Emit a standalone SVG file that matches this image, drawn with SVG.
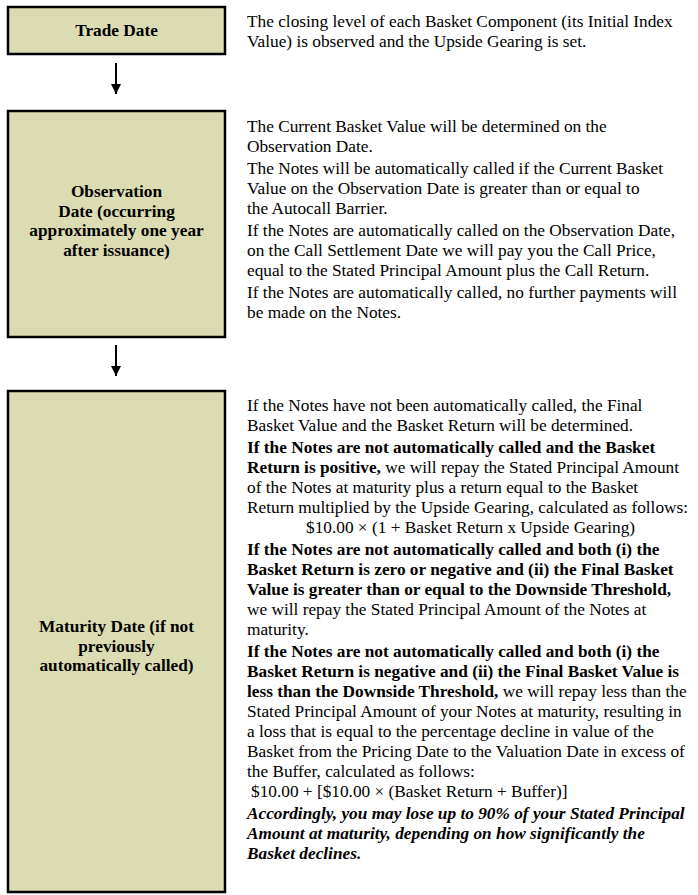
<svg xmlns="http://www.w3.org/2000/svg" width="698" height="895" viewBox="0 0 698 895">
<style>
.box{fill:#DCDCB2;stroke:#000;stroke-width:2.5}
.lbl{font-family:"Liberation Serif","Times New Roman",serif;font-size:17.3px;font-weight:bold;text-anchor:middle;fill:#000}
.t{font-family:"Liberation Serif","Times New Roman",serif;font-size:17.3px;fill:#000}
.b{font-weight:bold}
.bi{font-weight:bold;font-style:italic}
.conn{stroke:#000;stroke-width:2;fill:none}
</style>
<defs>
<marker id="ah" viewBox="0 0 10 10" refX="10" refY="5" markerWidth="5" markerHeight="5" markerUnits="strokeWidth" orient="auto">
<path d="M0,0 L10,5 L0,10 Z" fill="#000"/>
</marker>
</defs>
<rect width="698" height="895" fill="#fff"/>
<g id="connectors">
<line class="conn" x1="116" y1="63" x2="116" y2="94" marker-end="url(#ah)"/>
<line class="conn" x1="116" y1="345" x2="116" y2="376" marker-end="url(#ah)"/>
</g>
<g id="trade-date">
<rect class="box" x="8" y="7" width="217" height="47"/>
<text class="lbl" x="116.5" y="36">Trade Date</text>
</g>
<g id="trade-date-text" class="t">
<text x="247" y="27">The closing level of each Basket Component (its Initial Index</text>
<text x="247" y="47">Value) is observed and the Upside Gearing is set.</text>
</g>
<g id="observation-date">
<rect class="box" x="8" y="111" width="217" height="226"/>
<text class="lbl" x="116.5" y="197">Observation</text>
<text class="lbl" x="116.5" y="216.5">Date (occurring</text>
<text class="lbl" x="116.5" y="236">approximately one year</text>
<text class="lbl" x="116.5" y="255.5">after issuance)</text>
</g>
<g id="observation-date-text" class="t">
<text x="247" y="132">The Current Basket Value will be determined on the</text>
<text x="247" y="152">Observation Date.</text>
<text x="247" y="174">The Notes will be automatically called if the Current Basket</text>
<text x="247" y="194">Value on the Observation Date is greater than or equal to</text>
<text x="247" y="214">the Autocall Barrier.</text>
<text x="247" y="236">If the Notes are automatically called on the Observation Date,</text>
<text x="247" y="256">on the Call Settlement Date we will pay you the Call Price,</text>
<text x="247" y="276">equal to the Stated Principal Amount plus the Call Return.</text>
<text x="247" y="298">If the Notes are automatically called, no further payments will</text>
<text x="247" y="318">be made on the Notes.</text>
</g>
<g id="maturity-date">
<rect class="box" x="8" y="391" width="217" height="501"/>
<text class="lbl" x="116.5" y="632">Maturity Date (if not</text>
<text class="lbl" x="116.5" y="651.5">previously</text>
<text class="lbl" x="116.5" y="671">automatically called)</text>
</g>
<g id="maturity-date-text" class="t">
<text x="247" y="411">If the Notes have not been automatically called, the Final</text>
<text x="247" y="431">Basket Value and the Basket Return will be determined.</text>
<text x="247" y="453" class="b">If the Notes are not automatically called and the Basket</text>
<text x="247" y="473"><tspan class="b">Return is positive,</tspan> we will repay the Stated Principal Amount</text>
<text x="247" y="493">of the Notes at maturity plus a return equal to the Basket</text>
<text x="247" y="513">Return multiplied by the Upside Gearing, calculated as follows:</text>
<text x="306" y="533">$10.00 × (1 + Basket Return x Upside Gearing)</text>
<text x="247" y="555" class="b">If the Notes are not automatically called and both (i) the</text>
<text x="247" y="575" class="b">Basket Return is zero or negative and (ii) the Final Basket</text>
<text x="247" y="595" class="b">Value is greater than or equal to the Downside Threshold,</text>
<text x="247" y="615">we will repay the Stated Principal Amount of the Notes at</text>
<text x="247" y="635">maturity.</text>
<text x="247" y="657" class="b">If the Notes are not automatically called and both (i) the</text>
<text x="247" y="677" class="b">Basket Return is negative and (ii) the Final Basket Value is</text>
<text x="247" y="697"><tspan class="b">less than the Downside Threshold,</tspan> we will repay less than the</text>
<text x="247" y="717">Stated Principal Amount of your Notes at maturity, resulting in</text>
<text x="247" y="737">a loss that is equal to the percentage decline in value of the</text>
<text x="247" y="757">Basket from the Pricing Date to the Valuation Date in excess of</text>
<text x="247" y="777">the Buffer, calculated as follows:</text>
<text x="251" y="797">$10.00 + [$10.00 × (Basket Return + Buffer)]</text>
<text x="247" y="819" class="bi">Accordingly, you may lose up to 90% of your Stated Principal</text>
<text x="247" y="839" class="bi">Amount at maturity, depending on how significantly the</text>
<text x="247" y="859" class="bi">Basket declines.</text>
</g>
</svg>
